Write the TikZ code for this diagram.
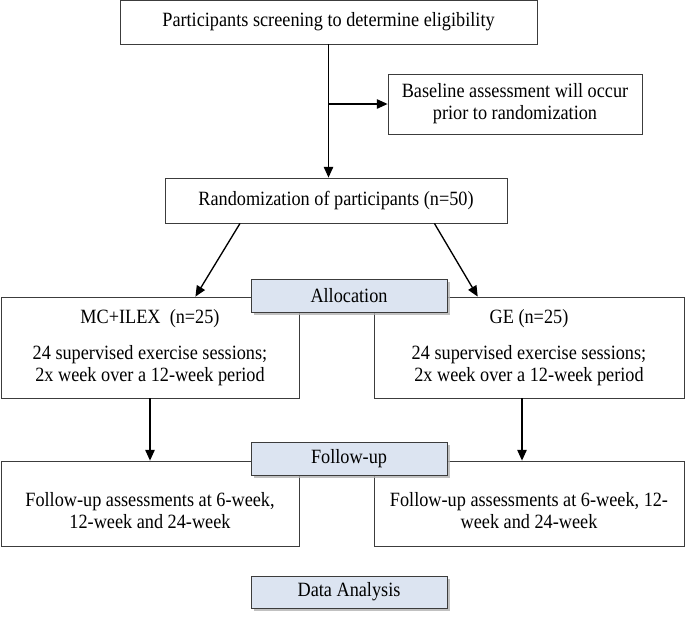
\documentclass[tikz,border=0pt]{standalone}
\usepackage{fontspec}
\setmainfont{Liberation Serif}[FakeStretch=0.9]
\usepackage{tikz}
\usetikzlibrary{arrows.meta,calc,shadows}
\definecolor{phase}{RGB}{220,228,241}
\definecolor{edge}{RGB}{60,60,60}
\begin{document}
\begin{tikzpicture}[
  x=0.75pt, y=-0.75pt,
  box/.style={draw=edge, line width=0.6pt, fill=white, inner sep=0pt, align=center, font=\fontsize{15.2}{16.5}\selectfont},
  phasebox/.style={box, fill=phase, minimum width=147pt, minimum height=24.75pt, drop shadow={shadow xshift=2pt, shadow yshift=-2pt, fill=gray!60, opacity=0.8}},
  arr/.style={-{Triangle[length=8pt,width=7pt]}, line width=1pt}
]
  \useasboundingbox (0,0) rectangle (685,619);
  \node[box, minimum width=312.75pt, minimum height=33pt] (screen) at (328.5,22) {Participants screening to determine eligibility};
  \node[box, minimum width=190.5pt, minimum height=45pt] (base) at (515,104) {Baseline assessment will occur\\prior to randomization};
  \node[box, minimum width=256.5pt, minimum height=33.75pt] (rand) at (336,200.5) {Randomization of participants (n=50)};
  \node[box, minimum width=223.5pt, minimum height=75.75pt] (gl) at (150,347.5) {MC+ILEX\ \ (n=25)\\[11pt]24 supervised exercise sessions;\\2x week over a 12-week period};
  \node[box, minimum width=232.5pt, minimum height=75.75pt] (gr) at (529,347.5) {GE (n=25)\\[11pt]24 supervised exercise sessions;\\2x week over a 12-week period};
  \node[box, minimum width=223.5pt, minimum height=63.75pt] (fl) at (150,503.5) {\rule{0pt}{21pt}Follow-up assessments at 6-week,\\12-week and 24-week};
  \node[box, minimum width=232.5pt, minimum height=63.75pt] (fr) at (529,503.5) {\rule{0pt}{21pt}Follow-up assessments at 6-week, 12-\\week and 24-week};
  \node[phasebox] (alloc) at (349,295.5) {Allocation};
  \node[phasebox] (follow) at (349,458.5) {Follow-up};
  \node[phasebox, minimum height=24pt] (data) at (349,592) {Data Analysis};

  \coordinate (split) at (screen.south |- base.west);
  \draw[arr] (screen.south) -- (screen.south |- rand.north);
  \draw[arr] (split) -- (base.west);
  \draw[arr] ($(rand.south west)!0.22!(rand.south east)$) -- ($(gl.north west)!0.652!(gl.north east)$);
  \draw[arr] ($(rand.south west)!0.787!(rand.south east)$) -- ($(gr.north west)!0.335!(gr.north east)$);
  \draw[arr] (gl.south) -- (fl.north);
  \draw[arr] ($(gr.south)+(-7,0)$) -- ($(fr.north)+(-7,0)$);
\end{tikzpicture}
\end{document}
